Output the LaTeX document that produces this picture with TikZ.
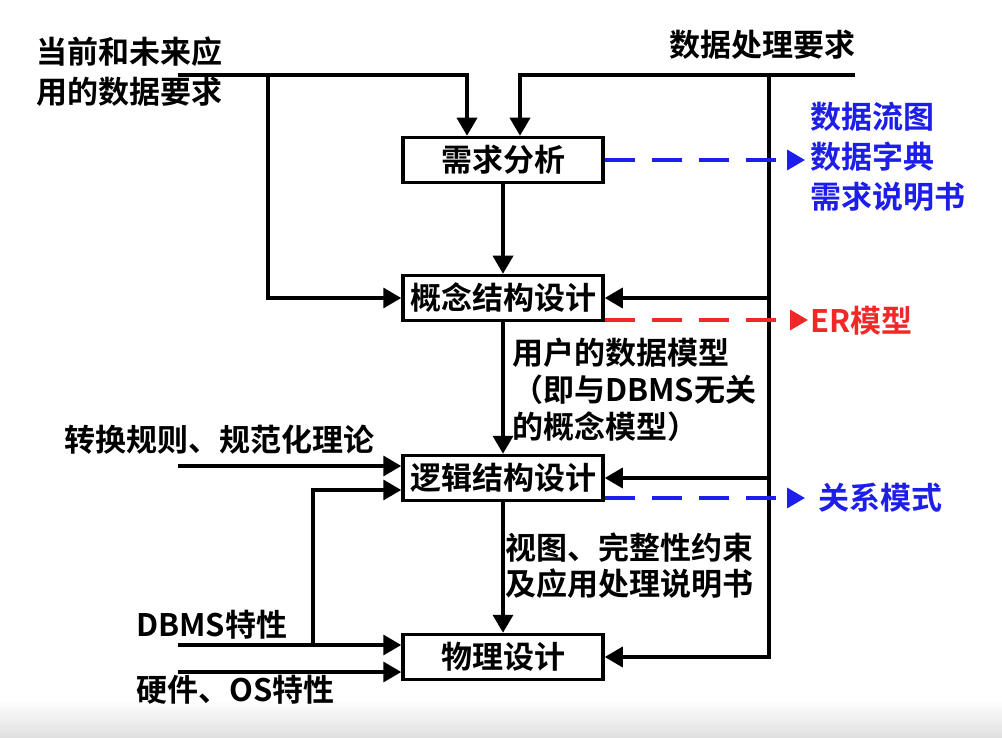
\documentclass[tikz,border=0pt]{standalone}
\usepackage{fontspec}
\setmainfont{Noto Sans CJK SC}[BoldFont={Noto Sans CJK SC Bold}]
\usetikzlibrary{arrows.meta}
\definecolor{myblue}{RGB}{30,30,235}
\definecolor{myred}{RGB}{240,40,40}
\begin{document}
\begin{tikzpicture}[x=1pt,y=-1pt,
  font=\bfseries\fontsize{31}{40}\selectfont,
  box/.style={draw,line width=3.5pt,minimum width=200pt,minimum height=45pt,inner sep=0pt},
  arr/.style={line width=3.5pt,-{Triangle[length=18pt,width=20pt]}},
  dashb/.style={line width=3.5pt,dash pattern=on 30pt off 17pt,myblue,-{Triangle[length=18pt,width=20pt]}},
  dashr/.style={line width=3.5pt,dash pattern=on 30pt off 17pt,myred,-{Triangle[length=18pt,width=20pt]}},
  lbl/.style={inner sep=0pt,align=left}]
\useasboundingbox (0,0) rectangle (1002,738);
\shade[top color=white,bottom color=gray!25] (0,700) rectangle (1002,738);

% boxes
\node[box] (req) at (503,160) {需求分析};
\node[box] (con) at (503,298) {概念结构设计};
\node[box] (log) at (503,478) {逻辑结构设计};
\node[box] (phy) at (503,657) {物理设计};

% texts
\node[lbl,anchor=west] (t1) at (36,72) {当前和未来应\\用的数据要求};
\node[lbl] (t2) at (762,45) {数据处理要求};
\node[lbl,anchor=west,text=myblue] (t3) at (810,157) {数据流图\\数据字典\\需求说明书};
\node[lbl,anchor=west,text=myred] (t4) at (810,321) {ER模型};
\node[lbl,anchor=west,text=myblue] (t5) at (818,498) {关系模式};
\node[lbl,anchor=west,font=\bfseries\fontsize{31}{37}\selectfont] (t6) at (512,390) {用户的数据模型\\（即与DBMS无关\\的概念模型）};
\node[lbl,anchor=west,font=\bfseries\fontsize{31}{36}\selectfont] (t7) at (505,566) {视图、完整性约束\\及应用处理说明书};
\node[lbl,anchor=west] (t8) at (64,440) {转换规则、规范化理论};
\node[lbl,anchor=west] (t9) at (136,625) {DBMS特性};
\node[lbl,anchor=west] (t10) at (136,690) {硬件、OS特性};

% coordinates
\coordinate (tl) at (178,75);
\coordinate (b1) at (268,75);
\coordinate (tr) at (855,75);
\coordinate (v1) at (769,75);
\coordinate (l1) at (178,466);
\coordinate (l2) at (178,645);
\coordinate (l3) at (178,672);
\coordinate (j) at (313,645);
\coordinate (d1) at (805,160);
\coordinate (d2) at (808,320);
\coordinate (d3) at (805,498);

% connectors
\draw[arr] (tl) -| ([xshift=-36pt]req.north);
\draw[arr] (b1) |- (con.west);
\draw[arr] (tr) -| ([xshift=17pt]req.north);
\draw[arr] (v1) |- (phy.east);
\draw[arr] (v1 |- con.east) -- (con.east);
\draw[arr] (v1 |- log.east) -- (log.east);
\draw[arr] (req) -- (con);
\draw[arr] (con) -- (log);
\draw[arr] (log) -- (phy);
\draw[arr] (l1) -- ([yshift=12pt]log.west);
\draw[arr] (j) |- ([yshift=-12pt]log.west);
\draw[arr] (l2) -- ([yshift=12pt]phy.west);
\draw[arr] (l3) -- ([yshift=-15pt]phy.west);

\draw[dashb] (req.east) -- (d1);
\draw[dashr] ([yshift=-22pt]con.east) -- (d2);
\draw[dashb] ([yshift=-20pt]log.east) -- (d3);
\end{tikzpicture}
\end{document}
